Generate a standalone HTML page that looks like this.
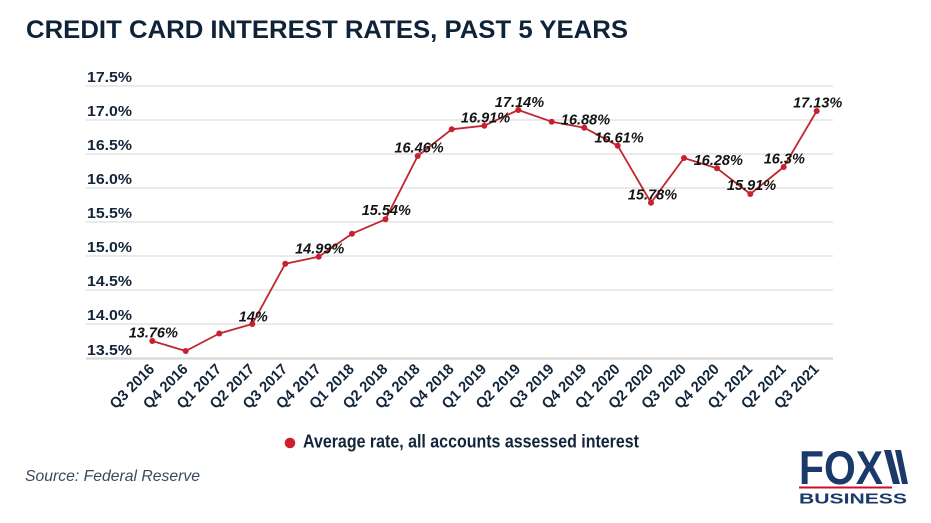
<!DOCTYPE html>
<html>
<head>
<meta charset="utf-8">
<style>
html,body{margin:0;padding:0;background:#fff;}
svg{display:block;}
text{font-family:"Liberation Sans",sans-serif;}
</style>
</head>
<body>
<svg width="931" height="523" viewBox="0 0 931 523" xmlns="http://www.w3.org/2000/svg">
<rect width="931" height="523" fill="#ffffff"/>
<!-- Title -->
<text x="26" y="38" font-size="25" font-weight="bold" fill="#0e2338" textLength="602" lengthAdjust="spacingAndGlyphs">CREDIT CARD INTEREST RATES, PAST 5 YEARS</text>

<!-- Gridlines -->
<g stroke="#dedede" stroke-width="1.3">
<line x1="86" y1="86" x2="833" y2="86"/>
<line x1="86" y1="120" x2="833" y2="120"/>
<line x1="86" y1="154" x2="833" y2="154"/>
<line x1="86" y1="188" x2="833" y2="188"/>
<line x1="86" y1="222" x2="833" y2="222"/>
<line x1="86" y1="256" x2="833" y2="256"/>
<line x1="86" y1="290" x2="833" y2="290"/>
<line x1="86" y1="324" x2="833" y2="324"/>
</g>
<line x1="86" y1="358.5" x2="833" y2="358.5" stroke="#d8d8d8" stroke-width="2.2"/>

<!-- Y tick labels -->
<g font-size="15" font-weight="bold" fill="#13253a">
<text x="87" y="82" textLength="45" lengthAdjust="spacingAndGlyphs">17.5%</text>
<text x="87" y="116" textLength="45" lengthAdjust="spacingAndGlyphs">17.0%</text>
<text x="87" y="150" textLength="45" lengthAdjust="spacingAndGlyphs">16.5%</text>
<text x="87" y="184" textLength="45" lengthAdjust="spacingAndGlyphs">16.0%</text>
<text x="87" y="218" textLength="45" lengthAdjust="spacingAndGlyphs">15.5%</text>
<text x="87" y="252" textLength="45" lengthAdjust="spacingAndGlyphs">15.0%</text>
<text x="87" y="286" textLength="45" lengthAdjust="spacingAndGlyphs">14.5%</text>
<text x="87" y="320" textLength="45" lengthAdjust="spacingAndGlyphs">14.0%</text>
<text x="87" y="355" textLength="45" lengthAdjust="spacingAndGlyphs">13.5%</text>
</g>

<!-- Series line -->
<polyline fill="none" stroke="#c0262f" stroke-width="1.8" stroke-linejoin="round"
points="152.3,341 185.7,351 219.3,333.5 252.3,324 285.3,263.7 318.7,256.7 352,233.7 385.5,219.3 417.7,156 451.7,129.3 484.3,125.7 518.3,110 551.7,121.7 584.3,127.7 617.7,145.7 651,202.7 684,158 717,168.3 750.3,194 783.7,167 816.7,111"/>
<g fill="#c8202f">
<circle cx="152.3" cy="341" r="3"/>
<circle cx="185.7" cy="351" r="3"/>
<circle cx="219.3" cy="333.5" r="3"/>
<circle cx="252.3" cy="324" r="3"/>
<circle cx="285.3" cy="263.7" r="3"/>
<circle cx="318.7" cy="256.7" r="3"/>
<circle cx="352" cy="233.7" r="3"/>
<circle cx="385.5" cy="219.3" r="3"/>
<circle cx="417.7" cy="156" r="3"/>
<circle cx="451.7" cy="129.3" r="3"/>
<circle cx="484.3" cy="125.7" r="3"/>
<circle cx="518.3" cy="110" r="3"/>
<circle cx="551.7" cy="121.7" r="3"/>
<circle cx="584.3" cy="127.7" r="3"/>
<circle cx="617.7" cy="145.7" r="3"/>
<circle cx="651" cy="202.7" r="3"/>
<circle cx="684" cy="158" r="3"/>
<circle cx="717" cy="168.3" r="3"/>
<circle cx="750.3" cy="194" r="3"/>
<circle cx="783.7" cy="167" r="3"/>
<circle cx="816.7" cy="111" r="3"/>
</g>

<!-- Data labels -->
<g font-size="14.5" font-weight="bold" font-style="italic" fill="#141414" text-anchor="middle">
<text x="153.3" y="337.3">13.76%</text>
<text x="253.3" y="321.7">14%</text>
<text x="319.7" y="253.3">14.99%</text>
<text x="386.3" y="215">15.54%</text>
<text x="419" y="152.7">16.46%</text>
<text x="485.5" y="122.3">16.91%</text>
<text x="519.5" y="107">17.14%</text>
<text x="585.5" y="124.4">16.88%</text>
<text x="619" y="142.3">16.61%</text>
<text x="652.5" y="199.3">15.78%</text>
<text x="718.3" y="165">16.28%</text>
<text x="751.5" y="190">15.91%</text>
<text x="784.3" y="163.3">16.3%</text>
<text x="817.7" y="107.7">17.13%</text>
</g>

<!-- X labels -->
<g font-size="15" font-weight="bold" fill="#13253a" text-anchor="end">
<text transform="translate(155.3,370) rotate(-45)" textLength="56" lengthAdjust="spacingAndGlyphs">Q3 2016</text>
<text transform="translate(188.7,370) rotate(-45)" textLength="56" lengthAdjust="spacingAndGlyphs">Q4 2016</text>
<text transform="translate(222.3,370) rotate(-45)" textLength="56" lengthAdjust="spacingAndGlyphs">Q1 2017</text>
<text transform="translate(255.3,370) rotate(-45)" textLength="56" lengthAdjust="spacingAndGlyphs">Q2 2017</text>
<text transform="translate(288.3,370) rotate(-45)" textLength="56" lengthAdjust="spacingAndGlyphs">Q3 2017</text>
<text transform="translate(321.7,370) rotate(-45)" textLength="56" lengthAdjust="spacingAndGlyphs">Q4 2017</text>
<text transform="translate(355,370) rotate(-45)" textLength="56" lengthAdjust="spacingAndGlyphs">Q1 2018</text>
<text transform="translate(388.5,370) rotate(-45)" textLength="56" lengthAdjust="spacingAndGlyphs">Q2 2018</text>
<text transform="translate(420.7,370) rotate(-45)" textLength="56" lengthAdjust="spacingAndGlyphs">Q3 2018</text>
<text transform="translate(454.7,370) rotate(-45)" textLength="56" lengthAdjust="spacingAndGlyphs">Q4 2018</text>
<text transform="translate(487.3,370) rotate(-45)" textLength="56" lengthAdjust="spacingAndGlyphs">Q1 2019</text>
<text transform="translate(521.3,370) rotate(-45)" textLength="56" lengthAdjust="spacingAndGlyphs">Q2 2019</text>
<text transform="translate(554.7,370) rotate(-45)" textLength="56" lengthAdjust="spacingAndGlyphs">Q3 2019</text>
<text transform="translate(587.3,370) rotate(-45)" textLength="56" lengthAdjust="spacingAndGlyphs">Q4 2019</text>
<text transform="translate(620.7,370) rotate(-45)" textLength="56" lengthAdjust="spacingAndGlyphs">Q1 2020</text>
<text transform="translate(654,370) rotate(-45)" textLength="56" lengthAdjust="spacingAndGlyphs">Q2 2020</text>
<text transform="translate(687,370) rotate(-45)" textLength="56" lengthAdjust="spacingAndGlyphs">Q3 2020</text>
<text transform="translate(720,370) rotate(-45)" textLength="56" lengthAdjust="spacingAndGlyphs">Q4 2020</text>
<text transform="translate(753.3,370) rotate(-45)" textLength="56" lengthAdjust="spacingAndGlyphs">Q1 2021</text>
<text transform="translate(786.7,370) rotate(-45)" textLength="56" lengthAdjust="spacingAndGlyphs">Q2 2021</text>
<text transform="translate(819.7,370) rotate(-45)" textLength="56" lengthAdjust="spacingAndGlyphs">Q3 2021</text>
</g>

<!-- Legend -->
<circle cx="290" cy="443" r="5.3" fill="#d0202e"/>
<text x="303" y="447.5" font-size="18" font-weight="bold" fill="#13253a" textLength="336" lengthAdjust="spacingAndGlyphs">Average rate, all accounts assessed interest</text>

<!-- Source -->
<text x="25" y="481" font-size="16" font-style="italic" fill="#3a4a5a" textLength="175" lengthAdjust="spacingAndGlyphs">Source: Federal Reserve</text>

<!-- Logo -->
<g fill="#1b3a6a">
<text x="799" y="484" font-size="47" font-weight="bold" textLength="84" lengthAdjust="spacingAndGlyphs">FOX</text>
<polygon points="884,450 891,450 900,484 893,484"/>
<polygon points="895,450 901,450 908,484 902,484"/>
<text x="799" y="503.5" font-size="14.8" font-weight="bold" textLength="108" lengthAdjust="spacingAndGlyphs">BUSINESS</text>
</g>
<rect x="799" y="486.5" width="93" height="2" fill="#c8102e"/>
</svg>
</body>
</html>
